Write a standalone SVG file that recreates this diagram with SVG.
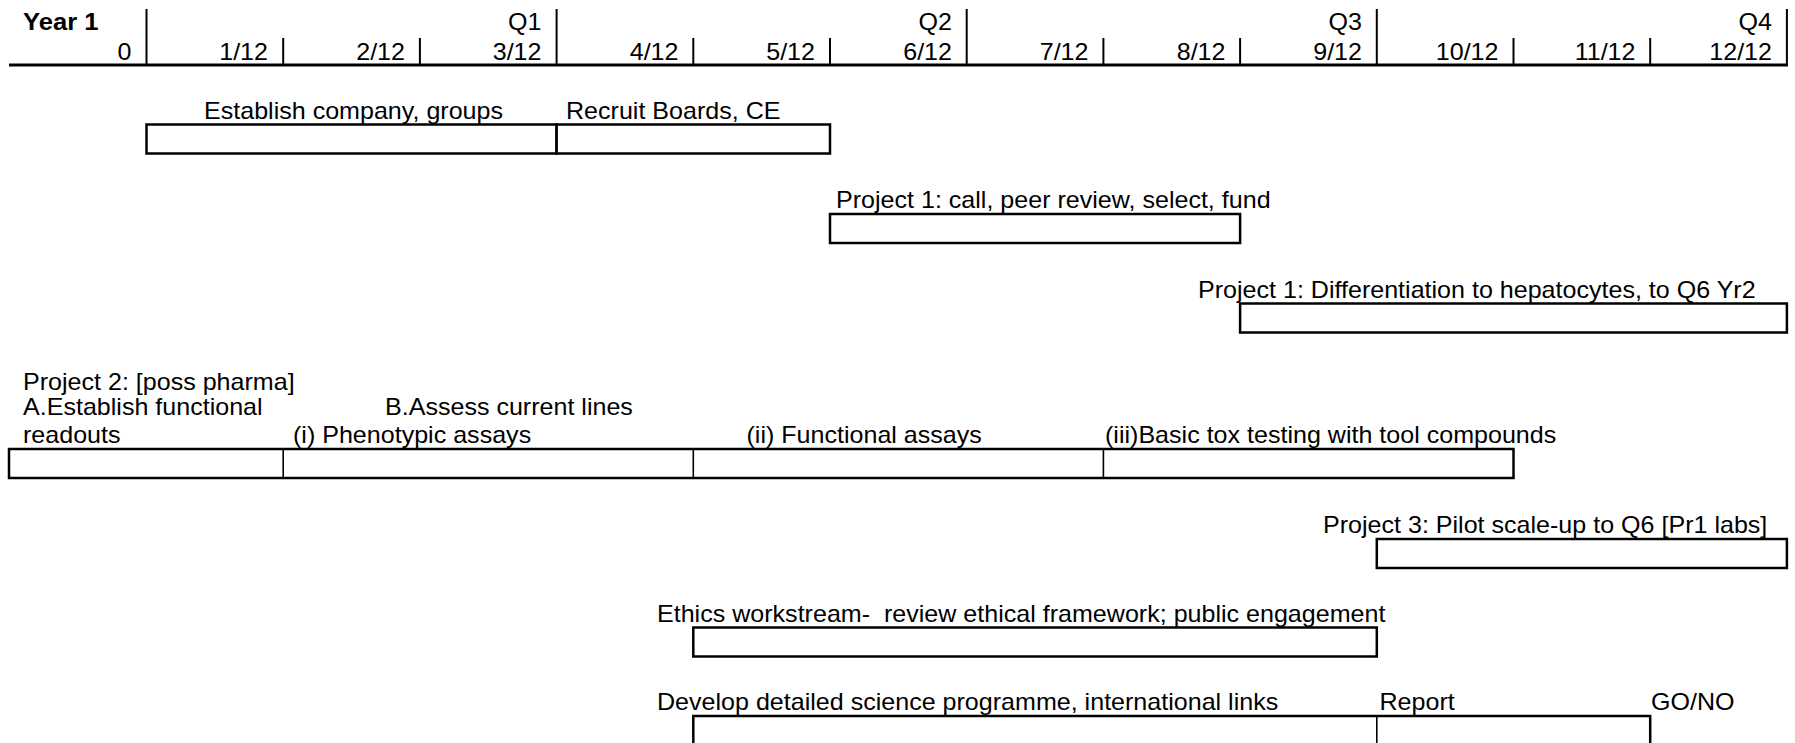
<svg xmlns="http://www.w3.org/2000/svg" width="1795" height="743" viewBox="0 0 1795 743">
<style>
text{font-family:"Liberation Sans",Arial,sans-serif;font-size:23px;fill:#000;white-space:pre}
.b{font-weight:bold;font-size:23.5px}
.e{text-anchor:end}
.ax{stroke:#000;stroke-width:2;fill:none}
.axm{stroke:#000;stroke-width:3;fill:none}
.bx{stroke:#000;stroke-width:2.5;fill:#fff}
.dv{stroke:#000;stroke-width:1.6;fill:none}
</style>
<rect width="1795" height="743" fill="#fff"/>
<g id="timeline">
<line class="axm" x1="9" y1="65" x2="1788" y2="65"/>
<line class="ax" x1="146.5" y1="9" x2="146.5" y2="65"/>
<line class="ax" x1="556.6" y1="9" x2="556.6" y2="65"/>
<line class="ax" x1="966.7" y1="9" x2="966.7" y2="65"/>
<line class="ax" x1="1376.8" y1="9" x2="1376.8" y2="65"/>
<line class="ax" x1="1786.9" y1="9" x2="1786.9" y2="65"/>
<line class="ax" x1="283.2" y1="38" x2="283.2" y2="65"/>
<line class="ax" x1="419.9" y1="38" x2="419.9" y2="65"/>
<line class="ax" x1="693.3" y1="38" x2="693.3" y2="65"/>
<line class="ax" x1="830" y1="38" x2="830" y2="65"/>
<line class="ax" x1="1103.4" y1="38" x2="1103.4" y2="65"/>
<line class="ax" x1="1240.1" y1="38" x2="1240.1" y2="65"/>
<line class="ax" x1="1513.5" y1="38" x2="1513.5" y2="65"/>
<line class="ax" x1="1650.2" y1="38" x2="1650.2" y2="65"/>
<text class="b" transform="translate(23,29.5) scale(1.09,1)">Year 1</text>
<text class="e" transform="translate(541.5,29.5) scale(1.09,1)">Q1</text>
<text class="e" transform="translate(952,29.5) scale(1.09,1)">Q2</text>
<text class="e" transform="translate(1362,29.5) scale(1.09,1)">Q3</text>
<text class="e" transform="translate(1772,29.5) scale(1.09,1)">Q4</text>
<text class="e" transform="translate(131.5,60) scale(1.09,1)">0</text>
<text class="e" transform="translate(268,60) scale(1.09,1)">1/12</text>
<text class="e" transform="translate(405,60) scale(1.09,1)">2/12</text>
<text class="e" transform="translate(541.5,60) scale(1.09,1)">3/12</text>
<text class="e" transform="translate(678.5,60) scale(1.09,1)">4/12</text>
<text class="e" transform="translate(815,60) scale(1.09,1)">5/12</text>
<text class="e" transform="translate(952,60) scale(1.09,1)">6/12</text>
<text class="e" transform="translate(1088.5,60) scale(1.09,1)">7/12</text>
<text class="e" transform="translate(1225.5,60) scale(1.09,1)">8/12</text>
<text class="e" transform="translate(1362,60) scale(1.09,1)">9/12</text>
<text class="e" transform="translate(1498.5,60) scale(1.09,1)">10/12</text>
<text class="e" transform="translate(1635.5,60) scale(1.09,1)">11/12</text>
<text class="e" transform="translate(1772,60) scale(1.09,1)">12/12</text>
</g>
<g id="establish-company">
<text transform="translate(204,118.5) scale(1.09,1)">Establish company, groups</text>
<rect class="bx" x="146.5" y="124.5" width="410.1" height="29"/>
</g>
<g id="recruit-boards">
<text transform="translate(566,118.5) scale(1.09,1)">Recruit Boards, CE</text>
<rect class="bx" x="556.6" y="124.5" width="273.4" height="29"/>
<line class="dv" x1="556.6" y1="124.5" x2="556.6" y2="153.5"/>
</g>
<g id="project1-call">
<text transform="translate(836,208) scale(1.09,1)">Project 1: call, peer review, select, fund</text>
<rect class="bx" x="830" y="214" width="410.1" height="29"/>
</g>
<g id="project1-differentiation">
<text transform="translate(1198,297.5) scale(1.09,1)">Project 1: Differentiation to hepatocytes, to Q6 Yr2</text>
<rect class="bx" x="1240.1" y="303.5" width="546.8" height="29"/>
</g>
<g id="project2">
<text transform="translate(23,389.5) scale(1.09,1)">Project 2: [poss pharma]</text>
<text transform="translate(23,415) scale(1.09,1)">A.Establish functional</text>
<text transform="translate(23,443) scale(1.09,1)">readouts</text>
<text transform="translate(385,415) scale(1.09,1)">B.Assess current lines</text>
<text transform="translate(293,443) scale(1.09,1)">(i) Phenotypic assays</text>
<text transform="translate(746.5,443) scale(1.09,1)">(ii) Functional assays</text>
<text transform="translate(1105,443) scale(1.09,1)">(iii)Basic tox testing with tool compounds</text>
<rect class="bx" x="9" y="449" width="1504.5" height="29"/>
<line class="dv" x1="283.2" y1="449" x2="283.2" y2="478"/>
<line class="dv" x1="693.3" y1="449" x2="693.3" y2="478"/>
<line class="dv" x1="1103.4" y1="449" x2="1103.4" y2="478"/>
</g>
<g id="project3">
<text transform="translate(1323,533) scale(1.09,1)">Project 3: Pilot scale-up to Q6 [Pr1 labs]</text>
<rect class="bx" x="1376.8" y="539" width="410.1" height="29"/>
</g>
<g id="ethics">
<text transform="translate(657,621.5) scale(1.09,1)">Ethics workstream-  review ethical framework; public engagement</text>
<rect class="bx" x="693.3" y="627.5" width="683.5" height="29"/>
</g>
<g id="science-programme">
<text transform="translate(657,709.5) scale(1.09,1)">Develop detailed science programme, international links</text>
<text transform="translate(1379.5,709.5) scale(1.09,1)">Report</text>
<text transform="translate(1651,709.5) scale(1.09,1)">GO/NO</text>
<rect class="bx" x="693.3" y="716" width="956.9" height="40"/>
<line class="dv" x1="1376.8" y1="716" x2="1376.8" y2="756"/>
</g>
<g id="connectors"/>
</svg>
